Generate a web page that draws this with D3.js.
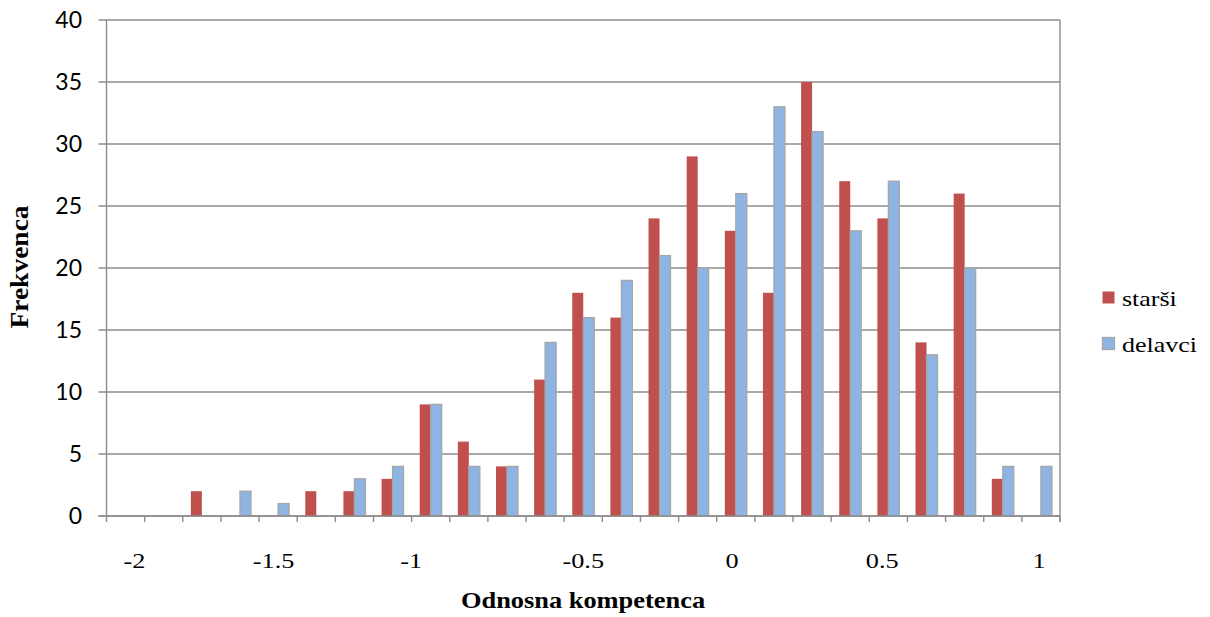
<!DOCTYPE html>
<html>
<head>
<meta charset="utf-8">
<script src="https://cdn.jsdelivr.net/npm/d3@7"></script>
<style>
  html, body { margin: 0; padding: 0; background: #ffffff; }
  svg { display: block; }
</style>
</head>
<body>
<svg id="chart" width="1210" height="617"></svg>
<script>
// Histogram bins (25 equal-width classes of relative competence)
const bins = ["1","2","3","4","5","6","7","8","9","10","11","12","13",
              "14","15","16","17","18","19","20","21","22","23","24","25"];

// Frequencies per bin
const starsi  = [0, 0, 2, 0, 0, 2, 2, 3, 9, 6, 4, 11, 18, 16, 24, 29, 23, 18, 35, 27, 24, 14, 26, 3, 0];
const delavci = [0, 0, 0, 2, 1, 0, 3, 4, 9, 4, 4, 14, 16, 19, 21, 20, 26, 33, 31, 23, 27, 13, 20, 4, 4];

const seriesNames = ["starši", "delavci"];

// Value labels along the horizontal axis and the bin offset each sits at
const xLabels   = ["-2", "-1.5", "-1", "-0.5", "0", "0.5", "1"];
const xLabelAt  = [0.73, 4.38, 7.99, 12.5, 16.4, 20.34, 24.45];

const yTicks = [0, 5, 10, 15, 20, 25, 30, 35, 40];

const colors = { "starši": "#C0504D", "delavci": "#8DB4E2" };

(function draw() {
  const svg = d3.select("#chart");
  const plotLeft = 106.5, plotRight = 1060, plotTop = 20, plotBottom = 516;

  const x0 = d3.scaleBand().domain(bins).range([plotLeft, plotRight]).padding(0);
  const bw = x0.bandwidth();
  const x1 = d3.scaleBand().domain(seriesNames).range([bw * 0.212, bw * 0.788]).padding(0);
  const y = d3.scaleLinear().domain([0, 40]).range([plotBottom, plotTop]);
  const xPos = d3.scaleLinear().domain([0, bins.length]).range([plotLeft, plotRight]);

  const gridColor = "#8c8c8c";

  // Horizontal gridlines with the left tick stubs
  svg.append("g").selectAll("line").data(yTicks).join("line")
    .attr("x1", plotLeft - 8).attr("x2", plotRight)
    .attr("y1", d => y(d)).attr("y2", d => y(d))
    .attr("stroke", gridColor).attr("stroke-width", 1.4);

  // Y axis line and right border
  svg.append("line").attr("x1", plotLeft).attr("x2", plotLeft).attr("y1", plotTop).attr("y2", plotBottom)
    .attr("stroke", gridColor).attr("stroke-width", 1.4);
  svg.append("line").attr("x1", plotRight).attr("x2", plotRight).attr("y1", plotTop).attr("y2", plotBottom + 6)
    .attr("stroke", gridColor).attr("stroke-width", 1.4);

  // Y tick labels
  svg.append("g").selectAll("text").data(yTicks).join("text")
    .attr("x", 82).attr("y", d => y(d))
    .attr("dy", "0.36em")
    .attr("text-anchor", "end")
    .attr("font-family", "Lato, 'Open Sans', sans-serif")
    .attr("font-size", 23)
    .attr("fill", "#000")
    .text(d => d);

  // X tick marks at the bin boundaries
  const bounds = bins.map(b => x0(b)).concat([plotRight]);
  svg.append("g").selectAll("line").data(bounds).join("line")
    .attr("x1", d => d).attr("x2", d => d)
    .attr("y1", plotBottom).attr("y2", plotBottom + 6)
    .attr("stroke", gridColor).attr("stroke-width", 1.4);

  // Bars
  const rows = [];
  bins.forEach((b, i) => {
    rows.push({ bin: b, s: "starši", v: starsi[i] });
    rows.push({ bin: b, s: "delavci", v: delavci[i] });
  });
  svg.append("g").selectAll("rect").data(rows.filter(d => d.v > 0)).join("rect")
    .attr("x", d => x0(d.bin) + x1(d.s))
    .attr("width", x1.bandwidth())
    .attr("y", d => y(d.v))
    .attr("height", d => y(0) - y(d.v))
    .attr("fill", d => colors[d.s])
    .attr("stroke", d => d.s === "delavci" ? "#a6a6a6" : "none")
    .attr("stroke-width", 1.3);

  // X axis line (drawn over bar bottoms)
  svg.append("line").attr("x1", plotLeft - 8).attr("x2", plotRight).attr("y1", plotBottom).attr("y2", plotBottom)
    .attr("stroke", gridColor).attr("stroke-width", 1.4);

  const serif = "'Liberation Serif', 'Times New Roman', serif";

  // X value labels
  svg.append("g").selectAll("text").data(xLabels).join("text")
    .attr("transform", (d, i) => `translate(${xPos(xLabelAt[i])},568) scale(1.25,1)`)
    .attr("text-anchor", "middle")
    .attr("font-family", serif)
    .attr("font-size", 21)
    .attr("fill", "#000")
    .text(d => d);

  // Axis titles
  svg.append("text")
    .attr("transform", "translate(583,608) scale(1.1,1)")
    .attr("text-anchor", "middle")
    .attr("font-family", serif).attr("font-weight", "bold").attr("font-size", 24)
    .text("Odnosna kompetenca");

  svg.append("text")
    .attr("transform", "translate(28,267) rotate(-90) scale(1.1,1)")
    .attr("text-anchor", "middle")
    .attr("font-family", serif).attr("font-weight", "bold").attr("font-size", 25)
    .text("Frekvenca");

  // Legend
  const legend = svg.append("g").selectAll("g").data(seriesNames).join("g")
    .attr("transform", (d, i) => `translate(1102,${291 + i * 46})`);
  legend.append("rect")
    .attr("x", 0.5).attr("y", 0.5).attr("width", 12).attr("height", 12)
    .attr("fill", d => colors[d])
    .attr("stroke", d => d === "delavci" ? "#a6a6a6" : "none")
    .attr("stroke-width", 1.3);
  legend.append("text")
    .attr("transform", "translate(20,15) scale(1.18,1)")
    .attr("font-family", serif).attr("font-size", 22)
    .attr("fill", "#000")
    .text(d => d);
})();
</script>
</body>
</html>
